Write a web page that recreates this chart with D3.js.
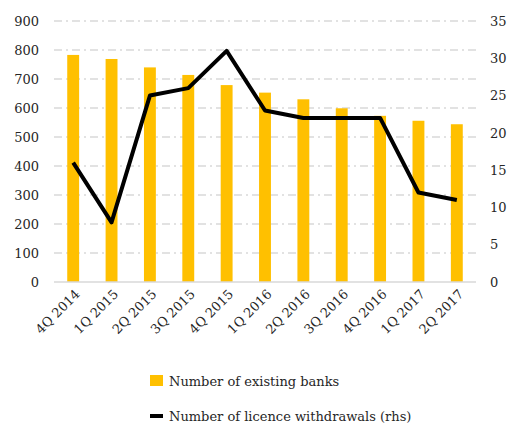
<!DOCTYPE html>
<html>
<head>
<meta charset="utf-8">
<script src="https://cdn.jsdelivr.net/npm/d3@7"></script>
<style>
  body { margin: 0; background: #fff; }
  text { font-family: "DejaVu Serif", "Liberation Serif", serif; fill: #262626; }
</style>
</head>
<body>
<div id="chart"></div>
<script>
// Chart data
var quarters = ["4Q 2014", "1Q 2015", "2Q 2015", "3Q 2015", "4Q 2015", "1Q 2016",
                "2Q 2016", "3Q 2016", "4Q 2016", "1Q 2017", "2Q 2017"];
var existingBanks = [783, 769, 740, 714, 679, 653, 630, 599, 573, 556, 544];
var withdrawals = [16, 8, 25, 26, 31, 23, 22, 22, 22, 12, 11];
var leftTicks = [0, 100, 200, 300, 400, 500, 600, 700, 800, 900];
var rightTicks = [0, 5, 10, 15, 20, 25, 30, 35];

var svgWidth = 509;
var svgHeight = 425;

var margin = { top: 21, right: 33, bottom: 143, left: 54 };
var chartWidth = svgWidth - margin.left - margin.right;
var chartHeight = svgHeight - margin.top - margin.bottom;

var svg = d3.select("#chart")
    .append("svg")
    .attr("width", svgWidth)
    .attr("height", svgHeight);

var chartGroup = svg.append("g")
    .attr("transform", `translate(${margin.left}, ${margin.top})`);

var xScale = d3.scaleBand()
    .domain(quarters)
    .range([0, chartWidth])
    .paddingInner(0.69)
    .paddingOuter(0.345);

var xPoint = d3.scalePoint()
    .domain(quarters)
    .range([0, chartWidth])
    .padding(0.5);

var yLeft = d3.scaleLinear().domain([0, 900]).range([chartHeight, 0]);
var yRight = d3.scaleLinear().domain([0, 35]).range([chartHeight, 0]);

// gridlines (dash-dot)
chartGroup.selectAll(".grid")
    .data(leftTicks.slice(1))
    .enter()
    .append("line")
    .attr("x1", 0)
    .attr("x2", chartWidth)
    .attr("y1", d => yLeft(d))
    .attr("y2", d => yLeft(d))
    .attr("stroke", "#d9d9d9")
    .attr("stroke-width", 1.5)
    .attr("stroke-dasharray", "8,4,2,4");

// bars
chartGroup.selectAll(".bar")
    .data(existingBanks)
    .enter()
    .append("rect")
    .attr("x", (d, i) => xScale(quarters[i]))
    .attr("width", xScale.bandwidth())
    .attr("y", d => yLeft(d))
    .attr("height", d => chartHeight - yLeft(d))
    .attr("fill", "#FFC000");

// line (rhs)
var line = d3.line()
    .x((d, i) => xPoint(quarters[i]))
    .y(d => yRight(d));

chartGroup.append("path")
    .datum(withdrawals)
    .attr("d", line)
    .attr("fill", "none")
    .attr("stroke", "#000")
    .attr("stroke-width", 4)
    .attr("stroke-linejoin", "round");

// bottom axis line
chartGroup.append("line")
    .attr("x1", 0).attr("x2", chartWidth)
    .attr("y1", chartHeight).attr("y2", chartHeight)
    .attr("stroke", "#d9d9d9")
    .attr("stroke-width", 1.5);

// left axis
var leftAxis = d3.axisLeft(yLeft).tickValues(leftTicks).tickSize(0).tickPadding(15);
var gl = chartGroup.append("g").call(leftAxis);
gl.select(".domain").remove();
gl.selectAll("text").attr("font-size", "13px").attr("fill", "#262626");

// right axis
var rightAxis = d3.axisRight(yRight).tickValues(rightTicks).tickSize(0).tickPadding(14);
var gr = chartGroup.append("g")
    .attr("transform", `translate(${chartWidth}, 0)`)
    .call(rightAxis);
gr.select(".domain").remove();
gr.selectAll("text").attr("font-size", "13px").attr("fill", "#262626");

// x labels rotated
var bottomAxis = d3.axisBottom(xPoint).tickSize(0).tickPadding(0);
var gb = chartGroup.append("g")
    .attr("transform", `translate(0, ${chartHeight})`)
    .call(bottomAxis);
gb.select(".domain").remove();
gb.selectAll("text")
    .attr("font-size", "13px")
    .attr("fill", "#262626")
    .attr("text-anchor", "end")
    .attr("dy", null)
    .attr("y", 0)
    .attr("transform", "translate(7, 13) rotate(-45)");

// legend
var legend = svg.append("g");
legend.append("rect")
    .attr("x", 150).attr("y", 375)
    .attr("width", 13).attr("height", 11)
    .attr("fill", "#FFC000");
legend.append("text")
    .attr("x", 169).attr("y", 381)
    .attr("dy", "0.35em")
    .attr("font-size", "13px")
    .text("Number of existing banks");
legend.append("line")
    .attr("x1", 150).attr("x2", 163)
    .attr("y1", 416).attr("y2", 416)
    .attr("stroke", "#000")
    .attr("stroke-width", 4);
legend.append("text")
    .attr("x", 169).attr("y", 416)
    .attr("dy", "0.35em")
    .attr("font-size", "13px")
    .text("Number of licence withdrawals (rhs)");
</script>
</body>
</html>
